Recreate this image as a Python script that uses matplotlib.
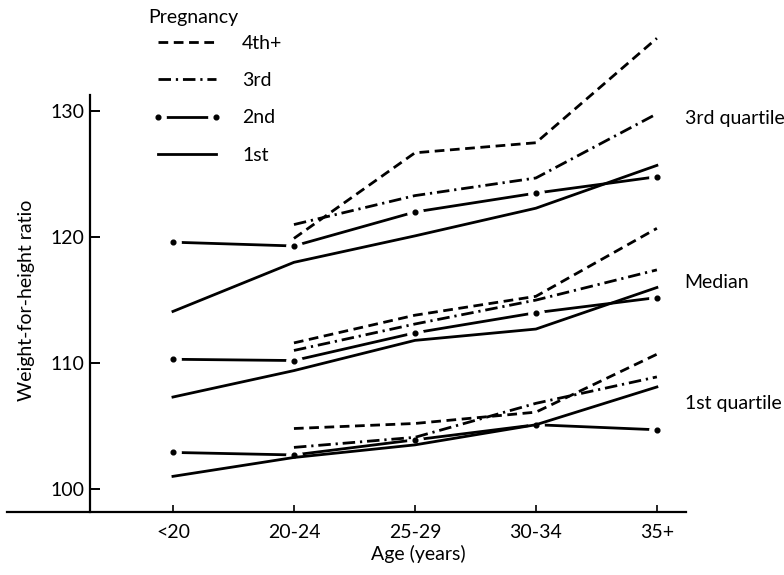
import matplotlib
matplotlib.use("Agg")
import matplotlib.pyplot as plt
from matplotlib.lines import Line2D
import numpy as np

plt.rcParams['font.family'] = ['Lato', 'DejaVu Sans']
plt.rcParams['lines.scale_dashes'] = False

ages = ['<20', '20-24', '25-29', '30-34', '35+']
nan = np.nan

# 3rd quartile
q3_1st = [114.1, 118.0, 120.1, 122.3, 125.7]
q3_2nd = [119.6, 119.3, 122.0, 123.5, 124.8]
q3_3rd = [nan, 121.0, 123.3, 124.7, 129.8]
q3_4th = [nan, 119.9, 126.7, 127.5, 135.8]

# median
med_1st = [107.3, 109.4, 111.8, 112.7, 116.0]
med_2nd = [110.3, 110.2, 112.4, 114.0, 115.2]
med_3rd = [nan, 111.0, 113.1, 115.0, 117.4]
med_4th = [nan, 111.6, 113.8, 115.3, 120.7]

# 1st quartile
q1_1st = [101.0, 102.5, 103.5, 105.1, 108.1]
q1_2nd = [102.9, 102.7, 103.9, 105.1, 104.7]
q1_3rd = [nan, 103.3, 104.1, 106.8, 108.9]
q1_4th = [nan, 104.8, 105.2, 106.1, 110.7]

group_names = ['3rd quartile', 'Median', '1st quartile']
group_label_y = [129.4, 116.4, 106.8]

fs = 14
lw = 2.0
dash4 = (0, (7, 4))
dash3 = (0, (9, 3.5, 1.6, 3.5))
x = np.arange(len(ages))

fig = plt.figure(figsize=(7.84, 5.75), dpi=100)
ax = fig.add_axes([0.0089, 0.1096, 0.866, 0.883])

for s1, s2, s3, s4 in [(q3_1st, q3_2nd, q3_3rd, q3_4th),
                       (med_1st, med_2nd, med_3rd, med_4th),
                       (q1_1st, q1_2nd, q1_3rd, q1_4th)]:
    # 2nd: long dash broken at each point, with a dot in the gap
    ax.plot(x, s2, color='black', lw=lw, zorder=2, solid_capstyle='butt')
    ax.plot(x, s2, ls='none', marker='o', ms=11, mfc='white', mec='white', zorder=2.1)
    ax.plot(x, s2, ls='none', marker='o', ms=3.4, mfc='black', mec='black', zorder=2.2)
    ax.plot(x, s1, color='black', lw=lw, zorder=3)
    ax.plot(x, s3, color='black', lw=lw, ls=dash3, zorder=3)
    ax.plot(x, s4, color='black', lw=lw, ls=dash4, zorder=3)

for name, yv in zip(group_names, group_label_y):
    ax.text(4.23, yv, name, fontsize=fs, va='center', ha='left')

ax.set_xlim(-1.372, 4.24)
ax.set_ylim(98.17, 138.5)
ax.spines['top'].set_visible(False)
ax.spines['right'].set_visible(False)
ax.spines['left'].set_position(('data', -0.686))
ax.spines['left'].set_bounds(98.17, 131.3)
ax.spines['left'].set_linewidth(1.6)
ax.spines['bottom'].set_linewidth(1.6)

ax.set_xticks(x)
ax.set_xticklabels(ages, fontsize=fs)
ax.set_yticks([100, 110, 120, 130])
ax.set_yticklabels(['100', '110', '120', '130'], fontsize=fs)
ax.tick_params(axis='y', direction='in', length=7, width=1.4, pad=4)
ax.tick_params(axis='x', direction='in', length=5, width=1.2, pad=9)

fig.text(418 / 784, 1 - 554 / 575, 'Age (years)', fontsize=fs, ha='center', va='center')
fig.text(27 / 784, 1 - 300 / 575, 'Weight-for-height ratio', fontsize=fs,
         ha='center', va='center', rotation=90)
fig.text(148 / 784, 1 - 18 / 575, 'Pregnancy', fontsize=fs, ha='left', va='center')

h4 = Line2D([], [], color='black', lw=lw, ls=dash4)
h3 = Line2D([], [], color='black', lw=lw, ls=dash3)
h2 = (Line2D([], [], color='black', lw=lw),
      Line2D([], [], ls='none', marker='o', ms=11, mfc='white', mec='white'),
      Line2D([], [], ls='none', marker='o', ms=3.4, mfc='black', mec='black'))
h1 = Line2D([], [], color='black', lw=lw)
leg = fig.legend([h4, h3, h2, h1], ['4th+', '3rd', '2nd', '1st'],
                 loc='upper left', bbox_to_anchor=(152 / 784, 1 - 35 / 575),
                 frameon=False, fontsize=fs, numpoints=2,
                 borderpad=0, borderaxespad=0,
                 handlelength=3.6, handletextpad=1.03, labelspacing=1.04)

fig.savefig('out.png', dpi=100)
